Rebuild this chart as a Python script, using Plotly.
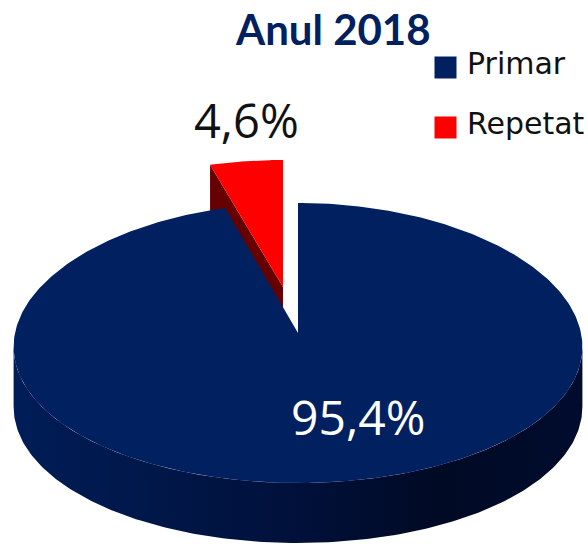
import numpy as np
import plotly.graph_objects as go

categories = ["Primar", "Repetat"]
values = [95.4, 4.6]
colors = ["#002060", "#FF0000"]
title_text = "Anul 2018"

CX, CY, RX, RY, K, DEPTH = 298, 333, 283, 140, 0.10, 60
RED_DX, RED_DY, RED_SCALE = -15, -46, 0.977
WALL_STOPS = [[0, "#001D58"], [0.25, "#001748"], [0.5, "#00103A"], [0.75, "#000A24"], [1, "#000C2E"]]
RED_WALL = "#660000"


def rim(theta_deg, dx=0, dy=0, scale=1.0):
    t = np.radians(theta_deg)
    c, s = np.cos(t), np.sin(t)
    x = CX + RX * s * (1 - K * c) + dx
    y = CY - scale * (RY * c - 10 * c * c) + dy
    return x, y


def label(v):
    return f"{v:.1f}".replace(".", ",") + "%"


sweep_main = 360 * values[0] / sum(values)
fig = go.Figure()


def poly(x, y, **kw):
    fig.add_trace(go.Scatter(x=x, y=y, mode="lines", fill="toself", line=dict(width=0),
                             showlegend=False, hoverinfo="skip", **kw))


# exploded slice: side wall then top
rx, ry = rim(sweep_main, RED_DX, RED_DY, RED_SCALE)
ax, ay = CX + RED_DX, CY + RED_DY
poly([rx, ax, ax, rx], [ry, ay, ay + DEPTH, ry + DEPTH], fillcolor=RED_WALL)
a = np.linspace(sweep_main, 360, 40)
x, y = rim(a, RED_DX, RED_DY, RED_SCALE)
poly(np.r_[ax, x], np.r_[ay, y], fillcolor=colors[1])

# main slice: curved wall then top
a = np.linspace(0, 360, 721)
xa, _ = rim(a)
right = a[np.argmax(xa)]
left = a[np.argmin(xa)]
a = np.linspace(right, left, 200)
xu, yu = rim(a)
xl, yl = rim(a[::-1], 0, DEPTH)
poly(np.r_[xu, xl], np.r_[yu, yl], fillcolor="#00103A",
     fillgradient=dict(type="horizontal", colorscale=WALL_STOPS))
a = np.linspace(0, sweep_main, 400)
x, y = rim(a)
poly(np.r_[CX, x], np.r_[CY, y], fillcolor=colors[0])

# legend swatches and names
fig.add_trace(go.Scatter(
    x=[445.5, 445.5], y=[67.5, 127.5], mode="markers",
    marker=dict(symbol="square", size=22, color=colors), showlegend=False, hoverinfo="skip"))

for name, yy in zip(categories, [63, 123]):
    fig.add_annotation(x=465, y=yy, text=name, showarrow=False, xanchor="left", yanchor="middle",
                       font=dict(family="DejaVu Sans", size=30, color="#111111"))
fig.add_annotation(x=246, y=120, text=label(values[1]), showarrow=False,
                   font=dict(family="Open Sans", size=47, color="#111111"))
fig.add_annotation(x=358, y=416, text=label(values[0]), showarrow=False,
                   font=dict(family="Open Sans", size=48, color="#FFFFFF"))
fig.add_annotation(x=333, y=29, text=f"<b>{title_text}</b>", showarrow=False,
                   font=dict(family="Lato", size=42, color="#002060"))

fig.update_layout(
    width=588, height=544, margin=dict(l=0, r=0, t=0, b=0),
    paper_bgcolor="white", plot_bgcolor="white", showlegend=False,
    xaxis=dict(range=[0, 588], visible=False, fixedrange=True),
    yaxis=dict(range=[544, 0], visible=False, fixedrange=True),
)
fig.write_html("out.html", config=dict(displayModeBar=False),
               post_script="document.body.style.margin='0';")
